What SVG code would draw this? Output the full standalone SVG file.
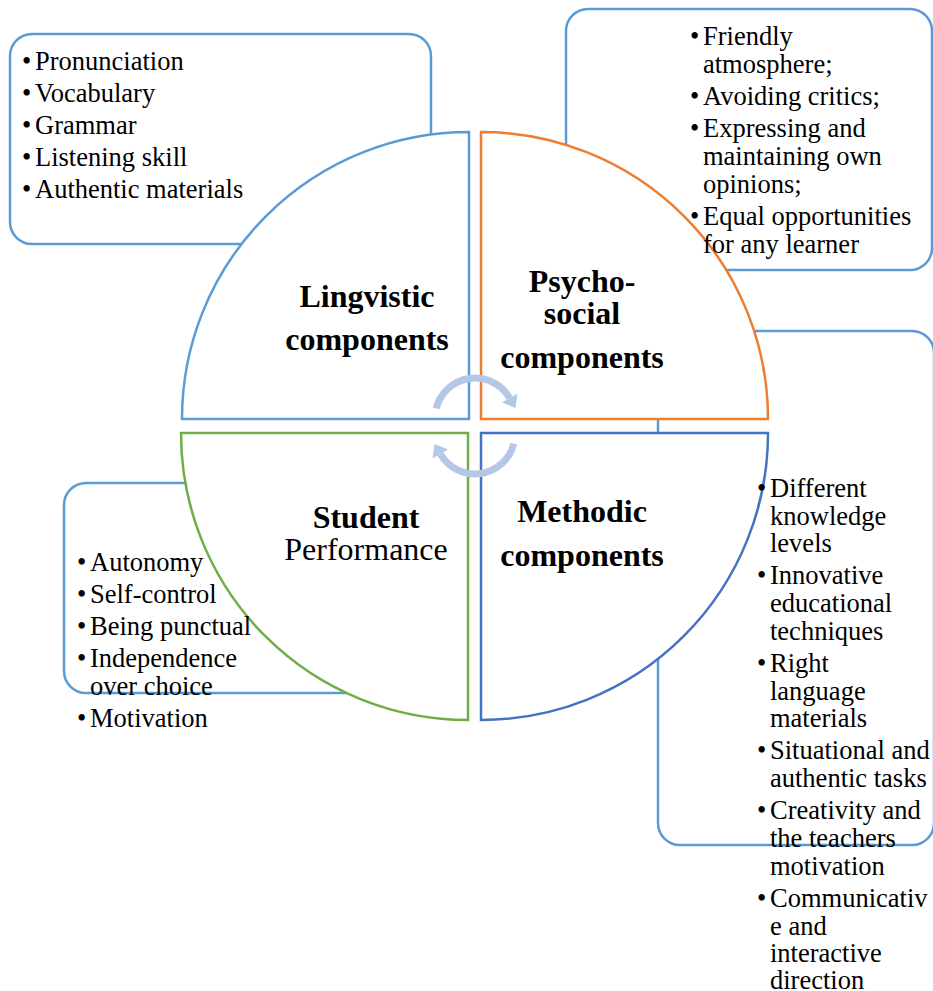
<svg xmlns="http://www.w3.org/2000/svg" width="933" height="991" viewBox="0 0 933 991">
<style>
.box{fill:#fff;stroke:#5B9BD5;stroke-width:2.5}
.q{fill:#fff;stroke-width:2.5;stroke-linejoin:miter}
.t{font-family:"Liberation Serif","Times New Roman",serif;font-size:26.5px;fill:#000}
.h{font-family:"Liberation Serif","Times New Roman",serif;font-size:32px;font-weight:bold;fill:#000;text-anchor:middle}
.hr{font-family:"Liberation Serif","Times New Roman",serif;font-size:32px;fill:#000;text-anchor:middle}
.arc{fill:none;stroke:#B4C7E7;stroke-width:7}
.ah{fill:#B4C7E7}
</style>
<rect width="933" height="991" fill="#fff"/>
<g id="box-lingvistic"><rect class="box" x="10" y="34" width="421" height="210" rx="22"/></g>
<g id="box-psycho"><rect class="box" x="566" y="9" width="366" height="261" rx="22"/></g>
<g id="box-methodic"><rect class="box" x="658" y="331" width="276" height="514" rx="22"/></g>
<g id="box-student"><rect class="box" x="64" y="483" width="400" height="210" rx="22"/></g>

<g id="node-lingvistic">
<path class="q" stroke="#5B9BD5" d="M469 419 L182 419 A287 287 0 0 1 469 132 Z"/>
<text class="h" x="367" y="307">Lingvistic</text>
<text class="h" x="367" y="350">components</text>
</g>
<g id="node-psycho">
<path class="q" stroke="#ED7D31" d="M481 419 L481 132 A287 287 0 0 1 768 419 Z"/>
<text class="h" x="582" y="292">Psycho-</text>
<text class="h" x="582" y="324">social</text>
<text class="h" x="582" y="368">components</text>
</g>
<g id="node-student">
<path class="q" stroke="#70AD47" d="M468 433 L468 720 A287 287 0 0 1 181 433 Z"/>
<text class="h" x="366" y="528">Student</text>
<text class="hr" x="366" y="560">Performance</text>
</g>
<g id="node-methodic">
<path class="q" stroke="#4472C4" d="M481 433 L768 433 A287 287 0 0 1 481 720 Z"/>
<text class="h" x="582" y="522">Methodic</text>
<text class="h" x="582" y="566">components</text>
</g>

<g id="connectors">
<path class="arc" d="M436.2 408.3 A40 40 0 0 1 509.6 398"/>
<polygon class="ah" points="515.5,408 517.5,393.5 502,402.5"/>
<path class="arc" d="M513.8 443.7 A40 40 0 0 1 440.4 454"/>
<polygon class="ah" points="434.5,444 432.5,458.5 448,449.5"/>
</g>

<g id="list-lingvistic" class="t">
<text x="22" y="70">•</text><text x="35" y="70">Pronunciation</text>
<text x="22" y="102">•</text><text x="35" y="102">Vocabulary</text>
<text x="22" y="134">•</text><text x="35" y="134">Grammar</text>
<text x="22" y="166">•</text><text x="35" y="166">Listening skill</text>
<text x="22" y="198">•</text><text x="35" y="198">Authentic materials</text>
</g>
<g id="list-psycho" class="t">
<text x="690" y="45">•</text><text x="703" y="45">Friendly</text>
<text x="703" y="73">atmosphere;</text>
<text x="690" y="105">•</text><text x="703" y="105">Avoiding critics;</text>
<text x="690" y="137">•</text><text x="703" y="137">Expressing and</text>
<text x="703" y="165">maintaining own</text>
<text x="703" y="193">opinions;</text>
<text x="690" y="225">•</text><text x="703" y="225">Equal opportunities</text>
<text x="703" y="253">for any learner</text>
</g>
<g id="list-student" class="t">
<text x="77" y="571">•</text><text x="90" y="571">Autonomy</text>
<text x="77" y="603">•</text><text x="90" y="603">Self-control</text>
<text x="77" y="635">•</text><text x="90" y="635">Being punctual</text>
<text x="77" y="667">•</text><text x="90" y="667">Independence</text>
<text x="90" y="695">over choice</text>
<text x="77" y="727">•</text><text x="90" y="727">Motivation</text>
</g>
<g id="list-methodic" class="t">
<text x="757" y="497">•</text><text x="770" y="497">Different</text>
<text x="770" y="525">knowledge</text>
<text x="770" y="552">levels</text>
<text x="757" y="584">•</text><text x="770" y="584">Innovative</text>
<text x="770" y="612">educational</text>
<text x="770" y="640">techniques</text>
<text x="757" y="672">•</text><text x="770" y="672">Right</text>
<text x="770" y="700">language</text>
<text x="770" y="727">materials</text>
<text x="757" y="759">•</text><text x="770" y="759">Situational and</text>
<text x="770" y="787">authentic tasks</text>
<text x="757" y="819">•</text><text x="770" y="819">Creativity and</text>
<text x="770" y="847">the teachers</text>
<text x="770" y="875">motivation</text>
<text x="757" y="907">•</text><text x="770" y="907">Communicativ</text>
<text x="770" y="935">e and</text>
<text x="770" y="962">interactive</text>
<text x="770" y="989">direction</text>
</g>
</svg>
